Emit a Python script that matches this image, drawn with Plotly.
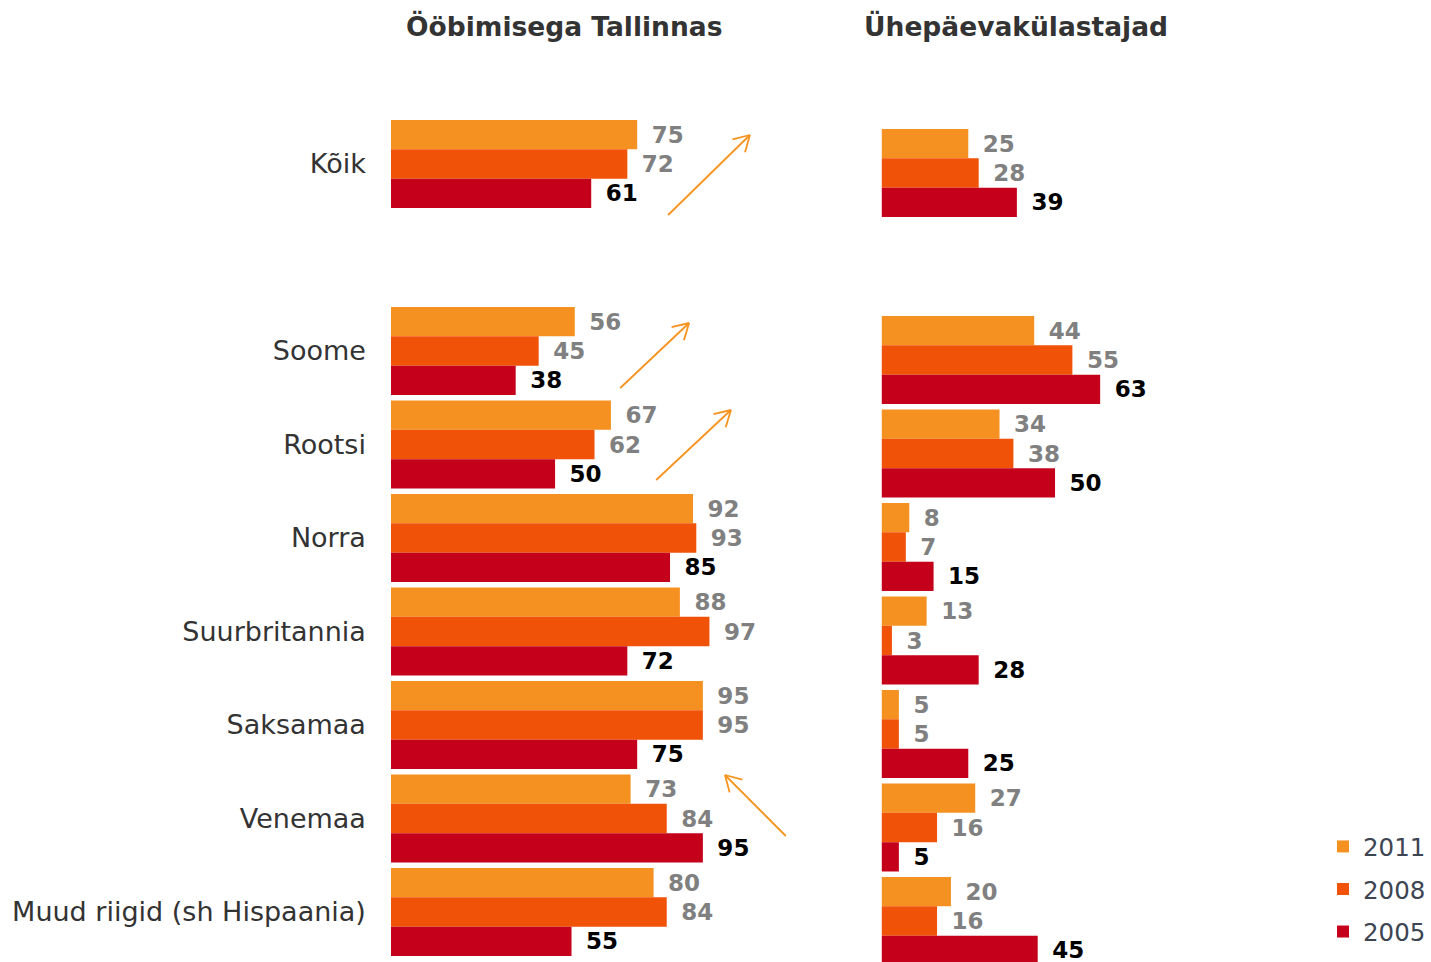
import math
import plotly.graph_objects as go

# ---------------- data ----------------
categories = ["Kõik", "Soome", "Rootsi", "Norra", "Suurbritannia",
              "Saksamaa", "Venemaa", "Muud riigid (sh Hispaania)"]
spacer = " "
category_order = ["Kõik", spacer, "Soome", "Rootsi", "Norra", "Suurbritannia",
                  "Saksamaa", "Venemaa", "Muud riigid (sh Hispaania)"]

years = ["2011", "2008", "2005"]

overnight_2011 = [75, 56, 67, 92, 88, 95, 73, 80]
overnight_2008 = [72, 45, 62, 93, 97, 95, 84, 84]
overnight_2005 = [61, 38, 50, 85, 72, 75, 95, 55]

dayvisit_2011 = [25, 44, 34, 8, 13, 5, 27, 20]
dayvisit_2008 = [28, 55, 38, 7, 3, 5, 16, 16]
dayvisit_2005 = [39, 63, 50, 15, 28, 25, 5, 45]

panel_titles = ["Ööbimisega Tallinnas", "Ühepäevakülastajad"]

# ---------------- styling ----------------
W, H = 1431, 962
colors = {"2011": "#F59120", "2008": "#F05208", "2005": "#C4001A"}
label_fonts = {
    "2011": dict(family="DejaVu Sans", size=23, color="#808080", weight="bold"),
    "2008": dict(family="DejaVu Sans", size=23, color="#808080", weight="bold"),
    "2005": dict(family="DejaVu Sans", size=23, color="#000000", weight="bold"),
}

fig = go.Figure()

series_left = {"2011": overnight_2011, "2008": overnight_2008, "2005": overnight_2005}
series_right = {"2011": dayvisit_2011, "2008": dayvisit_2008, "2005": dayvisit_2005}

for yr in years:
    fig.add_trace(go.Bar(
        y=categories, x=series_left[yr], orientation="h", name=yr,
        marker=dict(color=colors[yr], line=dict(width=0)),
        text=series_left[yr], texttemplate="\u2002%{x}", textposition="outside",
        outsidetextfont=label_fonts[yr], textfont=label_fonts[yr],
        constraintext="none", cliponaxis=False,
        legendgroup=yr, showlegend=True,
        xaxis="x", yaxis="y", hoverinfo="skip",
    ))
for yr in years:
    fig.add_trace(go.Bar(
        y=categories, x=series_right[yr], orientation="h", name=yr,
        marker=dict(color=colors[yr], line=dict(width=0)),
        text=series_right[yr], texttemplate="\u2002%{x}", textposition="outside",
        outsidetextfont=label_fonts[yr], textfont=label_fonts[yr],
        constraintext="none", cliponaxis=False,
        legendgroup=yr, showlegend=False,
        xaxis="x2", yaxis="y2", hoverinfo="skip",
    ))

# pixel geometry helpers
pitch = 93.5
left_c0, right_c0 = 164.0, 173.0   # pixel centre of first category
left_x0, left_scale = 392.0, 3.293
right_x0, right_scale = 884.0, 3.48
left_x1, right_x1 = 862.0, 1330.0

def yrange(c0):
    return [(H - c0) / pitch, -c0 / pitch]

fig.update_layout(
    width=W, height=H,
    margin=dict(l=0, r=0, t=0, b=0),
    paper_bgcolor="white", plot_bgcolor="white",
    barmode="group", bargap=1 - 88.0 / pitch, bargroupgap=0,
    xaxis=dict(domain=[left_x0 / W, left_x1 / W],
               range=[0, (left_x1 - left_x0) / left_scale],
               visible=False, anchor="y"),
    yaxis=dict(domain=[0, 1], type="category", categoryorder="array",
               categoryarray=category_order, range=yrange(left_c0),
               showline=False, showgrid=False, zeroline=False, ticks="",
               ticklabelstandoff=24, anchor="x",
               tickfont=dict(family="DejaVu Sans", size=27, color="#333333")),
    xaxis2=dict(domain=[right_x0 / W, right_x1 / W],
                range=[0, (right_x1 - right_x0) / right_scale],
                visible=False, anchor="y2"),
    yaxis2=dict(domain=[0, 1], type="category", categoryorder="array",
                categoryarray=category_order, range=yrange(right_c0),
                showline=False, showgrid=False, zeroline=False,
                showticklabels=False, anchor="x2"),
    legend=dict(x=1327 / W, y=1 - 824 / H, xanchor="left", yanchor="top",
                traceorder="grouped", tracegroupgap=7.7,
                font=dict(family="DejaVu Sans", size=24.5, color="#3D4452"),
                bgcolor="rgba(0,0,0,0)", borderwidth=0, itemwidth=30),
    showlegend=True,
)

# panel titles
for txt, cx in zip(panel_titles, [566, 1019]):
    fig.add_annotation(text=txt, xref="paper", yref="paper",
                       x=cx / W, y=1 - 26 / H, showarrow=False,
                       xanchor="center", yanchor="middle",
                       font=dict(family="DejaVu Sans", size=26.5, color="#333333", weight="bold"))

# trend arrows (head, tail) in pixels, drawn as line shapes
arrows = [((752, 135), (670, 215)),
          ((691, 323), (622, 388)),
          ((733, 410), (658, 480)),
          ((727, 775), (788, 836))]
arrow_color = "#F7931E"
arm_len, arm_ang = 18.0, math.radians(30)

def px(x, y):
    return x / W, 1 - y / H

for (hx, hy), (tx, ty) in arrows:
    x0, y0 = px(tx, ty)
    x1, y1 = px(hx, hy)
    fig.add_shape(type="line", xref="paper", yref="paper",
                  x0=x0, y0=y0, x1=x1, y1=y1,
                  line=dict(color=arrow_color, width=1.8))
    back = math.atan2(ty - hy, tx - hx)
    for s in (-1, 1):
        a = back + s * arm_ang
        ex, ey = hx + arm_len * math.cos(a), hy + arm_len * math.sin(a)
        ax0, ay0 = px(ex, ey)
        fig.add_shape(type="line", xref="paper", yref="paper",
                      x0=ax0, y0=ay0, x1=x1, y1=y1,
                      line=dict(color=arrow_color, width=1.8))

fig.write_html("out.html", config={"displayModeBar": False},
               post_script="document.body.style.margin='0';document.body.style.overflow='hidden';")
